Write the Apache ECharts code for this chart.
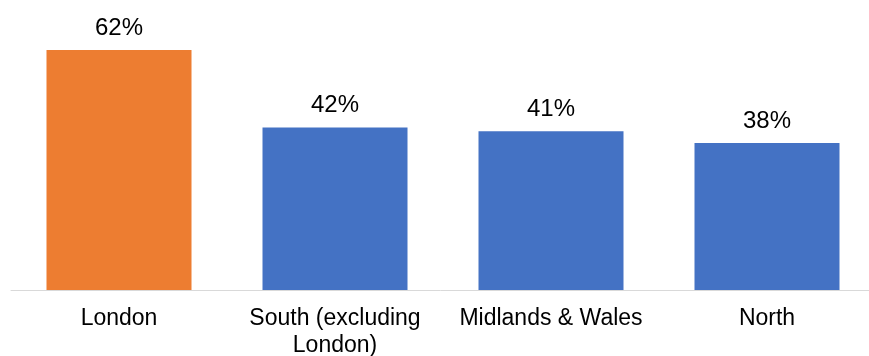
<!DOCTYPE html>
<html>
<head>
    <meta charset="utf-8">
    <title>Regions</title>
    <style type="text/css">
        * { margin: 0; padding: 0; }
        #main { width: 869px; height: 356px; }
    </style>
</head>
<body>
<div id="main"></div>
<script src="https://cdn.jsdelivr.net/npm/echarts@6/dist/echarts.min.js"></script>
<script type="text/javascript">
    var regions = ['London', 'South (excluding\nLondon)', 'Midlands & Wales', 'North'];
    var shares = [62, 42, 41, 38];
    var barColors = ['#ED7D31', '#4472C4', '#4472C4', '#4472C4'];

    var myChart = echarts.init(document.getElementById('main'));

    var option = {
        animation: false,
        grid: {
            left: 11,
            right: -6,
            top: 19,
            bottom: 66,
            containLabel: false,
            outerBoundsMode: 'none'
        },
        xAxis: {
            type: 'category',
            data: regions,
            axisLine: { lineStyle: { color: '#d9d9d9', width: 1 } },
            axisTick: { show: false },
            axisLabel: {
                color: '#000',
                fontFamily: 'Liberation Sans, Arial',
                fontSize: 23,
                lineHeight: 27,
                margin: 15,
                interval: 0
            }
        },
        yAxis: {
            type: 'value',
            min: 0,
            max: 70,
            show: false,
            splitLine: { show: false }
        },
        series: [{
            type: 'bar',
            barWidth: 145,
            data: shares.map(function (v, i) {
                return { value: v, itemStyle: { color: barColors[i] } };
            }),
            label: {
                show: true,
                position: 'top',
                distance: 10,
                formatter: '{c}%',
                color: '#000',
                fontFamily: 'Liberation Sans, Arial',
                fontSize: 24
            }
        }]
    };

    myChart.setOption(option);
</script>
</body>
</html>
